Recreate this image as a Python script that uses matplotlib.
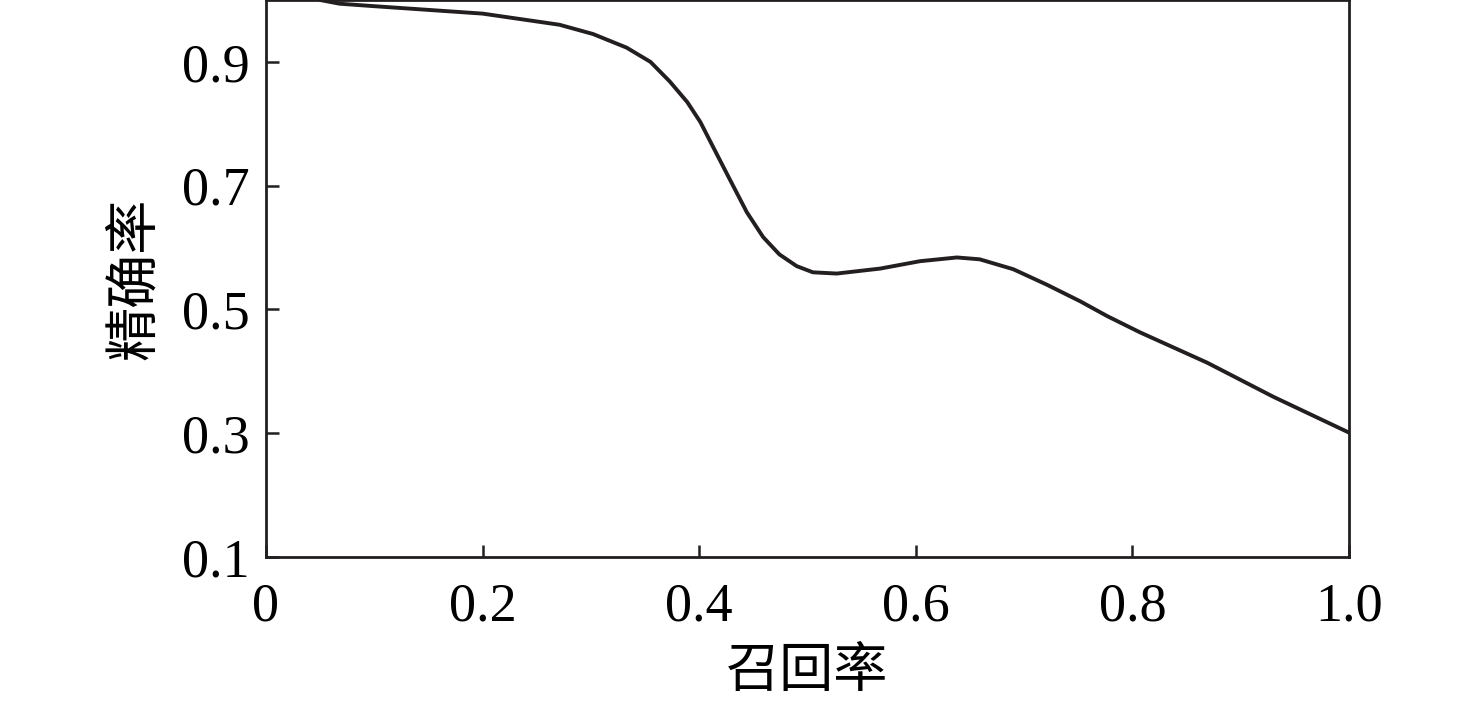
import matplotlib
matplotlib.use("Agg")
import matplotlib.pyplot as plt

recall = [0.050, 0.068, 0.100, 0.150, 0.200, 0.271, 0.302, 0.333, 0.355, 0.373, 0.389,
          0.401, 0.413, 0.428, 0.444, 0.459, 0.474, 0.490, 0.505, 0.527, 0.567, 0.604,
          0.638, 0.659, 0.690, 0.721, 0.752, 0.777, 0.807, 0.869, 0.930, 1.000]
precision = [1.000, 0.994, 0.990, 0.984, 0.978, 0.960, 0.945, 0.923, 0.900, 0.868, 0.835,
             0.803, 0.762, 0.711, 0.657, 0.617, 0.589, 0.570, 0.560, 0.558, 0.566, 0.578,
             0.584, 0.581, 0.565, 0.540, 0.513, 0.489, 0.463, 0.414, 0.359, 0.301]
xticks = [0, 0.2, 0.4, 0.6, 0.8, 1.0]
xticklabels = ["0", "0.2", "0.4", "0.6", "0.8", "1.0"]
yticks = [0.1, 0.3, 0.5, 0.7, 0.9]
yticklabels = ["0.1", "0.3", "0.5", "0.7", "0.9"]

fig = plt.figure(figsize=(14.76, 7.03), dpi=100)
ax = fig.add_axes([266/1476, (703-557)/703, (1349-266)/1476, 557/703])
ax.plot(recall, precision, color="#231f20", lw=2.8, solid_joinstyle="round",
        solid_capstyle="round")
ax.set_xlim(0, 1.0)
ax.set_ylim(0.1, 1.0)
ax.set_xticks(xticks)
ax.set_xticklabels(xticklabels, family="Liberation Serif", fontsize=39)
ax.set_yticks(yticks)
ax.set_yticklabels(yticklabels, family="Liberation Serif", fontsize=39)
ax.tick_params(direction="in", length=9, width=1.8, color="#231f20")
ax.tick_params(axis="x", pad=18)
ax.tick_params(axis="y", pad=12)
for s in ax.spines.values():
    s.set_linewidth(2.0)
    s.set_color("#231f20")
ax.set_xlabel("召回率", family=["Noto Sans CJK SC", "DejaVu Sans"], fontsize=39, labelpad=8)
ax.set_ylabel("精确率", family=["Noto Sans CJK SC", "DejaVu Sans"], fontsize=39, labelpad=14)
fig.savefig("out.png", dpi=100)
